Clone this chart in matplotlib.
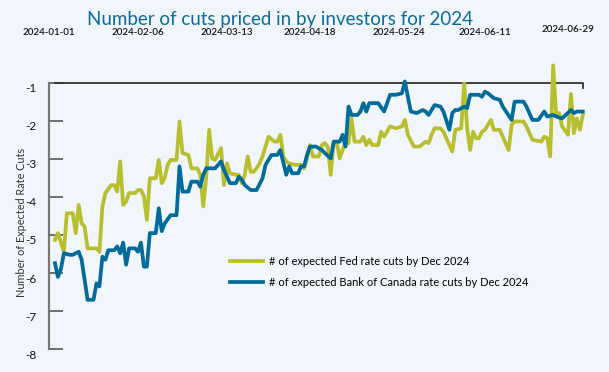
import matplotlib
matplotlib.use("Agg")
import matplotlib.pyplot as plt
from matplotlib.transforms import ScaledTranslation

plt.rcParams['font.family'] = ['Lato', 'DejaVu Sans']

# trading-day index and expected number of cuts
fed_day = [0, 1, 3, 4, 6, 7, 8, 9, 10, 11, 14, 15, 16, 17, 19, 20, 21, 22, 23, 24,
           25, 27, 28, 29, 30, 31, 32, 34, 35, 36, 37, 38, 39, 41, 42, 43, 45, 46, 48, 49,
           50, 51, 52, 53, 54, 56, 57, 58, 59, 61, 62, 63, 64, 65, 66, 67, 68, 69, 70, 72,
           74, 75, 76, 77, 78, 79, 81, 83, 84, 85, 86, 87, 89, 90, 91, 92, 93, 94, 95, 96,
           98, 99, 100, 101, 103, 104, 105, 106, 107, 109, 110, 111, 113, 115, 117, 118, 119, 121, 123, 125,
           126, 127, 128, 130, 131, 134, 135, 137, 138, 139, 140, 141, 142, 143, 144, 145, 147, 148, 150, 151,
           153, 154, 155, 158, 159, 161, 164, 165, 166, 167, 168, 169, 170, 171, 173, 174, 175, 176, 177, 178]
fed_cuts = [-5.13, -4.95, -5.44, -4.43, -4.43, -4.95, -4.21, -4.69, -4.78, -5.35, -5.35, -5.44, -4.25, -3.90, -3.69, -3.69, -3.86, -3.07, -4.21, -4.12,
            -3.90, -3.90, -3.82, -3.82, -3.99, -4.60, -3.51, -3.51, -3.03, -3.64, -3.51, -3.16, -3.03, -3.03, -2.02, -2.85, -2.90, -3.25, -3.25, -3.42,
            -4.25, -3.50, -2.24, -2.99, -3.03, -2.72, -3.69, -3.12, -3.38, -3.42, -3.42, -3.64, -3.42, -2.94, -3.34, -3.34, -3.25, -3.12, -2.94, -2.42,
            -2.55, -2.55, -2.37, -2.94, -3.07, -3.12, -3.16, -3.16, -3.25, -2.99, -2.64, -2.94, -2.94, -2.64, -2.59, -2.68, -3.42, -2.55, -2.55, -2.99,
            -2.55, -2.59, -1.94, -2.55, -2.55, -2.42, -2.64, -2.50, -2.64, -2.64, -2.29, -2.42, -2.15, -2.20, -2.15, -1.98, -2.37, -2.68, -2.68, -2.55,
            -2.59, -2.37, -2.20, -2.20, -2.29, -2.81, -2.24, -2.20, -1.02, -2.20, -2.77, -2.29, -2.46, -2.46, -2.29, -2.24, -1.98, -2.24, -2.24, -2.42,
            -2.77, -2.11, -2.02, -2.02, -2.15, -2.50, -2.55, -2.42, -2.46, -2.94, -0.55, -1.85, -1.80, -2.15, -2.37, -1.30, -2.33, -1.94, -2.24, -1.85]

boc_day = [0, 1, 2, 3, 5, 6, 8, 9, 11, 13, 14, 15, 16, 17, 18, 20, 21, 22, 23, 24,
           25, 27, 28, 29, 30, 31, 32, 34, 35, 36, 37, 39, 41, 42, 43, 45, 46, 48, 49, 50,
           51, 54, 56, 57, 59, 61, 62, 63, 64, 66, 68, 70, 71, 73, 75, 76, 78, 79, 80, 82,
           83, 84, 85, 86, 88, 90, 91, 93, 94, 96, 97, 98, 99, 100, 102, 103, 104, 105, 106, 109,
           111, 113, 115, 117, 118, 119, 120, 122, 124, 125, 126, 128, 130, 131, 133, 134, 135, 136, 138, 139,
           140, 143, 144, 145, 146, 148, 150, 151, 154, 155, 158, 159, 161, 163, 165, 166, 168, 169, 171, 174,
           175, 176, 178]
boc_cuts = [-5.74, -6.10, -5.90, -5.48, -5.52, -5.52, -5.44, -5.65, -6.70, -6.70, -6.27, -6.35, -5.57, -5.65, -5.40, -5.40, -5.30, -5.48, -5.20, -5.78,
            -5.35, -5.35, -5.44, -5.20, -5.83, -5.83, -4.95, -4.95, -4.30, -4.90, -4.70, -4.48, -4.48, -3.20, -3.86, -3.86, -3.60, -3.60, -3.73, -3.42,
            -3.25, -3.25, -3.07, -3.29, -3.64, -3.64, -3.47, -3.55, -3.69, -3.82, -3.82, -3.51, -3.16, -2.90, -2.90, -2.77, -3.42, -3.20, -3.38, -3.38,
            -3.20, -3.20, -2.90, -2.68, -2.68, -2.77, -2.85, -2.99, -2.55, -2.55, -2.37, -2.68, -1.63, -1.85, -1.85, -1.76, -1.54, -1.76, -1.54, -1.54,
            -1.76, -1.32, -1.32, -1.28, -0.97, -1.37, -1.76, -1.80, -1.72, -1.76, -1.85, -1.59, -1.63, -1.76, -2.24, -1.80, -1.72, -1.72, -1.63, -1.67,
            -1.32, -1.32, -1.37, -1.24, -1.28, -1.41, -1.45, -1.63, -1.98, -1.50, -1.50, -1.63, -1.98, -1.98, -1.76, -1.89, -1.85, -1.89, -1.94, -1.72,
            -1.80, -1.76, -1.76]

tick_days = [-2, 28, 58, 86, 116, 145, 173]
tick_labels = ["2024-01-01", "2024-02-06", "2024-03-13", "2024-04-18",
               "2024-05-24", "2024-06-11", "2024-06-29"]
y_ticks = [-1, -2, -3, -4, -5, -6, -7, -8]

bg = "#F1F6FD"
fed_color = "#B7BF2F"
boc_color = "#006B98"

fig = plt.figure(figsize=(6.09, 3.72), dpi=100, facecolor=bg)
ax = fig.add_axes([0.0805, 0.061, 0.8765, 0.717])
ax.set_facecolor(bg)

ax.plot(fed_day, fed_cuts, color=fed_color, lw=2.7, clip_on=False, zorder=3,
        label="# of expected Fed rate cuts by Dec 2024")
ax.plot(boc_day, boc_cuts, color=boc_color, lw=2.7, clip_on=False, zorder=4,
        label="# of expected Bank of Canada rate cuts by Dec 2024")

ax.set_xlim(0, 178)
ax.set_ylim(-8, -1)

ax.spines['bottom'].set_visible(False)
ax.spines['right'].set_visible(False)
ax.spines['left'].set_color("#777777")
ax.spines['left'].set_linewidth(1.6)
ax.spines['top'].set_visible(False)

# top border line with a small end tick
ax.plot([0, 178, 178], [-1, -1, -1.15], color="#333333", lw=1.3,
        clip_on=False, zorder=2)

ax.xaxis.tick_top()
ax.set_xticks(tick_days)
ax.set_xticklabels(tick_labels, fontsize=7, fontweight='semibold', color="#111111")
ax.tick_params(axis='x', length=0, pad=33)
lbls = ax.get_xticklabels()
lbls[-1].set_transform(lbls[-1].get_transform() + ScaledTranslation(0, 0.03, fig.dpi_scale_trans))

ax.set_yticks(y_ticks)
ax.set_yticklabels([str(v) for v in y_ticks], fontsize=8.5, color="#111111")
ax.tick_params(axis='y', direction='in', length=10, width=1.2, color="#555555", pad=9)
for lab in ax.get_yticklabels():
    lab.set_transform(lab.get_transform() + ScaledTranslation(0, -0.05, fig.dpi_scale_trans))

ax.set_ylabel("Number of Expected Rate Cuts", fontsize=7.8, color="#333333")
ax.yaxis.set_label_coords(-0.042, 0.477)

fig.text(280 / 609, 1 - 19 / 372, "Number of cuts priced in by investors for 2024",
         ha='center', va='center', fontsize=13.5, color="#0E6A96")

ax.legend(loc='upper left', bbox_to_anchor=(220 / 609, 1 - 246 / 372),
          bbox_transform=fig.transFigure, frameon=False, fontsize=8,
          handlelength=3.0, handletextpad=0.5, labelspacing=0.9)

fig.savefig("out.png", dpi=100, facecolor=bg)
